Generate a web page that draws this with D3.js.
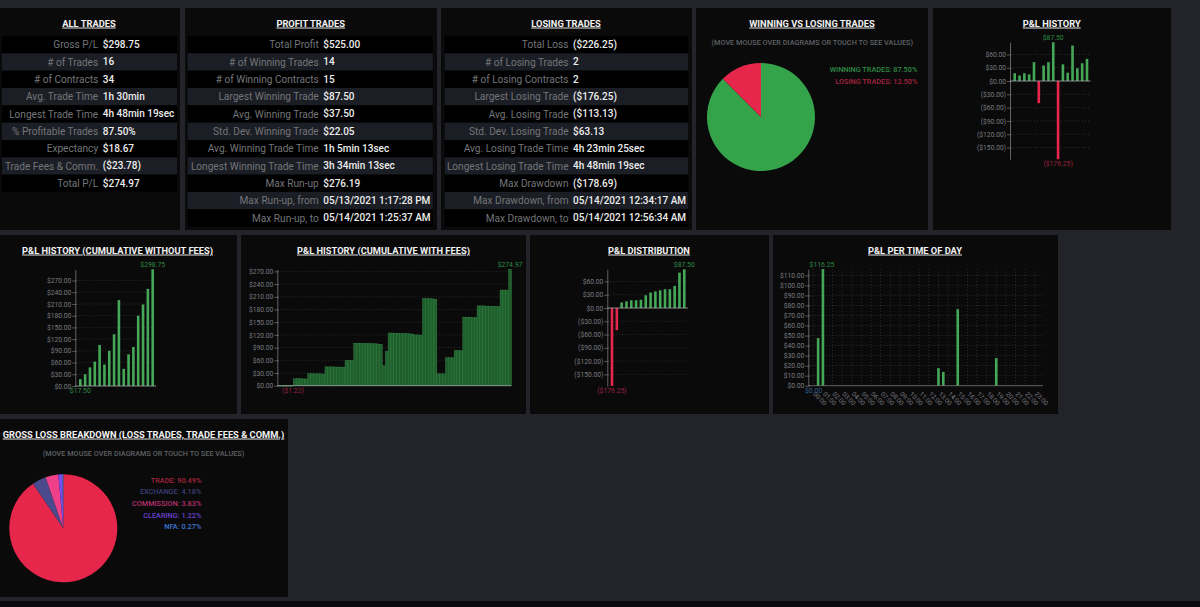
<!DOCTYPE html>
<html>
<head>
<meta charset="utf-8">
<script src="https://cdn.jsdelivr.net/npm/d3@7"></script>
<style>
html, body { margin: 0; padding: 0; background: #22242a; overflow: hidden; }
svg { display: block; font-family: Roboto, sans-serif; }
</style>
</head>
<body>
<svg id="svg" width="1200" height="607"></svg>
<script>
const allLabels = ["Gross P/L", "# of Trades", "# of Contracts", "Avg. Trade Time", "Longest Trade Time", "% Profitable Trades", "Expectancy", "Trade Fees & Comm.", "Total P/L"];
const allValues = ["$298.75", "16", "34", "1h 30min", "4h 48min 19sec", "87.50%", "$18.67", "($23.78)", "$274.97"];
const profitLabels = ["Total Profit", "# of Winning Trades", "# of Winning Contracts", "Largest Winning Trade", "Avg. Winning Trade", "Std. Dev. Winning Trade", "Avg. Winning Trade Time", "Longest Winning Trade Time", "Max Run-up", "Max Run-up, from", "Max Run-up, to"];
const profitValues = ["$525.00", "14", "15", "$87.50", "$37.50", "$22.05", "1h 5min 13sec", "3h 34min 13sec", "$276.19", "05/13/2021 1:17:28 PM", "05/14/2021 1:25:37 AM"];
const lossLabels = ["Total Loss", "# of Losing Trades", "# of Losing Contracts", "Largest Losing Trade", "Avg. Losing Trade", "Std. Dev. Losing Trade", "Avg. Losing Trade Time", "Longest Losing Trade Time", "Max Drawdown", "Max Drawdown, from", "Max Drawdown, to"];
const lossValues = ["($226.25)", "2", "2", "($176.25)", "($113.13)", "$63.13", "4h 23min 25sec", "4h 48min 19sec", "($178.69)", "05/14/2021 12:34:17 AM", "05/14/2021 12:56:34 AM"];

const winLossNames = ["WINNING TRADES", "LOSING TRADES"];
const winLossShares = [87.5, 12.5];
const grossLossNames = ["TRADE", "EXCHANGE", "COMMISSION", "CLEARING", "NFA"];
const grossLossShares = [90.49, 4.18, 3.83, 1.22, 0.27];

const pnlHistory = [17.5, 12.5, 17.5, 15, 42.5, -50, 35, 42.5, 87.5, -176.25, 37.5, 18.75, 80, 28.75, 40, 50];
const pnlCumulative = [17.5, 30, 47.5, 62.5, 105, 55, 90, 132.5, 220, 43.75, 81.25, 100, 180, 208.75, 248.75, 298.75];
const pnlDistribution = [-176.25, -50, 12.5, 15, 17.5, 17.5, 18.75, 28.75, 35, 37.5, 40, 42.5, 42.5, 50, 80, 87.5];
const pnlCumulativeFees = [
    -1.22, -1.22, -1.22, -1.22, -1.22,
    16.3, 16.3, 16.3, 16, 16,
    28.5, 28.5, 28, 28, 28, 27.5,
    44.5, 44.5, 44.5, 44.2, 44, 44, 43.8,
    59.5, 59.5, 59.5,
    100.5, 100.5, 100, 100, 99.5, 99.5, 99, 99, 98.5, 98,
    47, 81,
    124.5, 124.5, 124, 124, 123.5, 123.5, 123, 122.5, 122, 120, 120, 119.5,
    206, 206, 205.5, 205, 204.5,
    28, 28, 28,
    66, 66, 66,
    83, 83, 83,
    162, 162, 161.5, 161, 161,
    188.5, 188.5, 188.5, 188, 188, 187.5, 187.5, 187,
    226, 226, 226,
    274.97
];

const hourLabels = ["00:00", "01:00", "02:00", "03:00", "04:00", "05:00", "06:00", "07:00", "08:00", "09:00", "10:00", "11:00", "12:00", "13:00", "14:00", "15:00", "16:00", "17:00", "18:00", "19:00", "20:00", "21:00", "22:00", "23:00"];
// half hour slots, only the ones with trades
const timeSlots = ["00:30", "01:00", "13:00", "13:30", "15:00", "19:00"];
const timeValues = [47.5, 116.25, 17.5, 13.75, 76.25, 27.5];

const historyTicks = [60, 30, 0, -30, -60, -90, -120, -150];
const cumulativeTicks = [0, 30, 60, 90, 120, 150, 180, 210, 240, 270];
const timeTicks = [0, 10, 20, 30, 40, 50, 60, 70, 80, 90, 100, 110];

const panelColor = "#0a0a0b";
const green = "#45a858";
const red = "#e6264a";
const textGrey = "#737578";
const axisGrey = "#77797c";
const gridGrey = "#454545";

const svg = d3.select("#svg");

const money = v => v < 0 ? `($${d3.format(",.2f")(-v)})` : `$${d3.format(",.2f")(v)}`;

const drawPanel = ([x, y, w, h], title, titleX) => {
    svg.append("rect").attr("x", x).attr("y", y).attr("width", w).attr("height", h).attr("fill", panelColor);
    svg.append("text")
        .attr("x", titleX).attr("y", y + 15.3)
        .attr("dy", "0.35em")
        .attr("text-anchor", "middle")
        .attr("font-size", 9.3)
        .attr("font-weight", 700)
        .attr("fill", "#f2f2f2")
        .attr("text-decoration", "underline")
        .text(title);
};

const drawTable = (x0, x1, splitX, labels, values) => {
    const y = d3.scaleBand().domain(d3.range(labels.length)).range([36, 36 + labels.length * 17.33]);
    const rows = svg.append("g").selectAll("g").data(labels).enter().append("g");
    rows.append("rect")
        .attr("x", x0).attr("y", (d, i) => y(i))
        .attr("width", x1 - x0).attr("height", y.bandwidth())
        .attr("fill", (d, i) => i % 2 ? "#1c1e25" : "#000");
    rows.append("text")
        .attr("x", splitX - 2.3).attr("y", (d, i) => y(i) + y.bandwidth() / 2)
        .attr("dy", "0.35em").attr("text-anchor", "end")
        .attr("font-size", 10.1).attr("fill", textGrey)
        .text(d => d);
    rows.append("text")
        .attr("x", splitX + 2.3).attr("y", (d, i) => y(i) + y.bandwidth() / 2)
        .attr("dy", "0.35em")
        .attr("font-size", 10).attr("font-weight", 500).attr("fill", "#eeeeee")
        .text((d, i) => values[i]);
};

const drawPie = (cx, cy, names, shares, colors, legendColors, legendX, legendY, hintX, hintY) => {
    svg.append("text")
        .attr("x", hintX).attr("y", hintY).attr("dy", "0.35em").attr("text-anchor", "middle")
        .attr("font-size", 7.3).attr("font-weight", 500).attr("fill", "#5f6164")
        .text("(MOVE MOUSE OVER DIAGRAMS OR TOUCH TO SEE VALUES)");
    const arcs = d3.pie().sort(null)(shares);
    const arc = d3.arc().innerRadius(0).outerRadius(54);
    svg.append("g").attr("transform", `translate(${cx},${cy})`)
        .selectAll("path").data(arcs).enter().append("path")
        .attr("d", arc)
        .attr("fill", (d, i) => colors[i]);
    svg.append("g").selectAll("text").data(names).enter().append("text")
        .attr("x", legendX).attr("y", (d, i) => legendY + i * 11.6)
        .attr("dy", "0.35em").attr("text-anchor", "end")
        .attr("font-size", 7.3).attr("font-weight", 500)
        .attr("fill", (d, i) => legendColors[i])
        .text((d, i) => `${d}: ${shares[i].toFixed(2)}%`);
};

const drawYAxis = (y, axisX, tickValues, gridEnd) => {
    svg.append("g").selectAll("line").data(tickValues.filter(t => t !== 0)).enter().append("line")
        .attr("x1", axisX).attr("x2", gridEnd)
        .attr("y1", d => y(d)).attr("y2", d => y(d))
        .attr("stroke", gridGrey).attr("stroke-width", 0.6).attr("stroke-dasharray", "1,2");
    const axis = d3.axisLeft(y).tickValues(tickValues).tickFormat(money).tickSizeInner(3).tickSizeOuter(0).tickPadding(1);
    const g = svg.append("g").attr("transform", `translate(${axisX},0)`).call(axis);
    g.select(".domain").attr("stroke", axisGrey).attr("stroke-width", 0.8);
    g.selectAll(".tick line").attr("stroke", axisGrey).attr("stroke-width", 0.7).attr("x2", 1.5).attr("x1", -3);
    g.selectAll(".tick text").attr("fill", "#7a7c80").attr("font-size", 6.7).attr("font-family", "Roboto, sans-serif");
};

const drawMaxLabel = (x, y, text, color, below) => {
    svg.append("text")
        .attr("x", x).attr("y", y + (below ? 4.8 : -4.3))
        .attr("dy", "0.35em").attr("text-anchor", "middle")
        .attr("font-size", 6.8).attr("fill", color)
        .text(text);
};

const drawBars = ({values, ticks, axisX, band, axisEnd, top, bottom}) => {
    const y = d3.scaleLinear().domain([Math.min(0, d3.min(values)), d3.max(values)]).range([bottom, top]);
    const x = d3.scaleBand().domain(d3.range(values.length)).range(band).paddingInner(0.46).paddingOuter(0.23);
    drawYAxis(y, axisX, ticks, axisEnd);
    svg.append("g").selectAll("rect").data(values).enter().append("rect")
        .attr("x", (d, i) => x(i)).attr("width", x.bandwidth())
        .attr("y", d => y(Math.max(d, 0)))
        .attr("height", d => Math.abs(y(d) - y(0)))
        .attr("fill", d => d < 0 ? red : green);
    svg.append("line")
        .attr("x1", axisX).attr("x2", axisEnd).attr("y1", y(0)).attr("y2", y(0))
        .attr("stroke", "#a5a7a9").attr("stroke-width", 0.8);
    const maxIndex = values.indexOf(d3.max(values));
    const minIndex = values.indexOf(d3.min(values));
    drawMaxLabel(x(maxIndex) + x.bandwidth() / 2, y(values[maxIndex]), money(values[maxIndex]), "#2f8a44");
    drawMaxLabel(x(minIndex) + x.bandwidth() / 2, y(Math.min(values[minIndex], 0)), money(values[minIndex]),
        values[minIndex] < 0 ? "#9c2340" : "#2f8a44", true);
};

const drawCumulativeFees = () => {
    const values = pnlCumulativeFees;
    const y = d3.scaleLinear().domain([0, 274.97]).range([385.7, 269.3]);
    const x = d3.scaleBand().domain(d3.range(values.length)).range([279, 511.5]);
    drawYAxis(y, 277.3, cumulativeTicks, 511.5);
    svg.append("g").selectAll("rect").data(values).enter().append("rect")
        .attr("x", (d, i) => x(i)).attr("width", x.bandwidth())
        .attr("y", d => y(Math.max(d, 0)))
        .attr("height", d => Math.abs(y(d) - y(0)))
        .attr("fill", "#1e5f2c").attr("stroke", "#3f9152").attr("stroke-width", 0.35);
    svg.append("line")
        .attr("x1", 277.3).attr("x2", 511.5).attr("y1", y(0)).attr("y2", y(0))
        .attr("stroke", "#a5a7a9").attr("stroke-width", 0.8);
    drawMaxLabel(510, y(274.97), "$274.97", "#2f8a44");
    drawMaxLabel(293, y(0), "($1.22)", "#9c2340", true);
};

const drawTimeOfDay = () => {
    const slots = hourLabels.flatMap(h => [h, h.replace(":00", ":30")]);
    const y = d3.scaleLinear().domain([0, 116.25]).range([385.7, 269.1]);
    const x = d3.scaleBand().domain(slots).range([810.9, 1042]);
    svg.append("g").selectAll("line").data(hourLabels).enter().append("line")
        .attr("x1", d => x(d) + x.bandwidth() / 2).attr("x2", d => x(d) + x.bandwidth() / 2)
        .attr("y1", 269.1).attr("y2", 385.7)
        .attr("stroke", gridGrey).attr("stroke-width", 0.6).attr("stroke-dasharray", "1,2");
    drawYAxis(y, 808.3, timeTicks, 1043);
    svg.append("g").selectAll("rect").data(timeValues).enter().append("rect")
        .attr("x", (d, i) => x(timeSlots[i]) + 1.1).attr("width", x.bandwidth() - 2.2)
        .attr("y", d => y(d)).attr("height", d => y(0) - y(d))
        .attr("fill", green);
    svg.append("line")
        .attr("x1", 808.3).attr("x2", 1043).attr("y1", y(0)).attr("y2", y(0))
        .attr("stroke", axisGrey).attr("stroke-width", 0.8);
    svg.append("g").selectAll("text").data(hourLabels).enter().append("text")
        .attr("transform", d => `translate(${x(d) + x.bandwidth() / 2 - 0.5},394.5) rotate(45)`)
        .attr("font-size", 6.4).attr("fill", "#7a7c80")
        .text(d => d);
    drawMaxLabel(x("01:00") + x.bandwidth() / 2 - 1, y(116.25), "$116.25", "#2f8a44");
    drawMaxLabel(813.5, y(0), "$0.00", "#32608c", true);
};

// strip under the last row
svg.append("rect").attr("x", 0).attr("y", 601).attr("width", 1200).attr("height", 6).attr("fill", "#0b0b0d");

drawPanel([0, 8, 180, 222], "ALL TRADES", 89);
drawPanel([185, 8, 252, 222], "PROFIT TRADES", 310.7);
drawPanel([441, 8, 251, 222], "LOSING TRADES", 566);
drawPanel([696, 8, 232, 222], "WINNING VS LOSING TRADES", 812);
drawPanel([933, 8, 238, 222], "P&L HISTORY", 1051.7);
drawPanel([0, 235, 237, 179], "P&L HISTORY (CUMULATIVE WITHOUT FEES)", 117.5);
drawPanel([241, 235, 285, 179], "P&L HISTORY (CUMULATIVE WITH FEES)", 383.5);
drawPanel([530, 235, 239, 179], "P&L DISTRIBUTION", 649);
drawPanel([773, 235, 285, 179], "P&L PER TIME OF DAY", 915);
drawPanel([0, 419, 288, 178], "GROSS LOSS BREAKDOWN (LOSS TRADES, TRADE FEES & COMM.)", 143.5);

drawTable(2, 177, 100.5, allLabels, allValues);
drawTable(187.7, 432.7, 321, profitLabels, profitValues);
drawTable(444.7, 688.3, 570.8, lossLabels, lossValues);

drawPie(761, 117, winLossNames, winLossShares, ["#34a34a", red], ["#2f8a44", "#a8243e"], 917.3, 69.7, 812.3, 42.7);
drawPie(63.3, 528.3, grossLossNames, grossLossShares,
    [red, "#4a4a8c", "#f0408a", "#7a4cf0", "#4a8cf0"],
    ["#a8243e", "#3f3f78", "#b8306c", "#6a42d0", "#3f78d8"], 201.3, 480.3, 143.5, 453.3);

drawBars({values: pnlHistory, ticks: historyTicks, axisX: 1010, band: [1012.3, 1089.4], axisEnd: 1090.5, top: 42.2, bottom: 159.2});
drawBars({values: pnlCumulative, ticks: cumulativeTicks, axisX: 75.3, band: [77.9, 155.1], axisEnd: 156, top: 269.3, bottom: 386});
drawBars({values: pnlDistribution, ticks: historyTicks, axisX: 607.3, band: [609.6, 686.7], axisEnd: 688, top: 269.3, bottom: 386});
drawCumulativeFees();
drawTimeOfDay();
</script>
</body>
</html>
